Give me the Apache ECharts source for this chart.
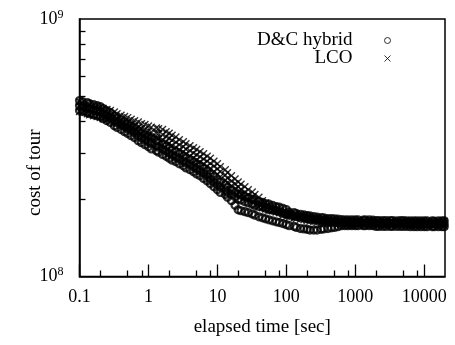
<!DOCTYPE html>
<html><head><meta charset="utf-8">
<script src="https://cdn.jsdelivr.net/npm/echarts@6/dist/echarts.min.js"></script>
<style>html,body{margin:0;padding:0;background:#fff}#c{width:455px;height:345px}</style>
</head><body><div id="c"></div>
<script>
// elapsed time [sec] sample points
const timeSec = [
  0.1, 0.11, 0.13, 0.14, 0.16, 0.18, 0.2, 0.22, 0.25, 0.28,
  0.32, 0.35, 0.4, 0.45, 0.5, 0.56, 0.63, 0.71, 0.79, 0.89,
  1, 1.1, 1.3, 1.4, 1.6, 1.8, 2, 2.2, 2.5, 2.8,
  3.2, 3.5, 4, 4.5, 5, 5.6, 6.3, 7.1, 7.9, 8.9,
  10, 11, 13, 14, 16, 18, 20, 22, 25, 28,
  32, 35, 40, 45, 50, 56, 63, 71, 79, 89,
  100, 110, 130, 140, 160, 180, 200, 220, 250, 280,
  320, 350, 400, 450, 500, 560, 630, 710, 790, 890,
  1000, 1100, 1300, 1400, 1600, 1800, 2000, 2200, 2500, 2800,
  3200, 3500, 4000, 4500, 5000, 5600, 6300, 7100, 7900, 8900,
  10000, 11000, 13000, 14000, 16000, 18000, 19500
];
// cost of tour, in millions (x 1e6)
const dcRun1 = [
  482, 478, 473, 469, 465, 461, 457, 449, 441, 433,
  421, 414, 406, 399, 392, 385, 379, 369, 362, 355,
  349, 343, 337, 332, 326, 321, 315, 309, 305, 300,
  294, 289, 284, 279, 274, 269, 263, 257, 250, 244,
  237, 232, 227, 222, 217, 213, 209, 207, 204, 202,
  200, 198, 196, 194, 192, 191, 189, 187, 186, 184,
  182, 178, 177, 175.5, 174.5, 173.5, 172.5, 172, 171, 170,
  169.5, 169, 168, 168, 167.5, 167, 166.5, 166, 166, 166,
  166, 166, 165.5, 166, 166, 165.5, 165, 165, 165, 165,
  165, 165, 164.5, 165, 165, 164.5, 164.5, 164.5, 164.5, 164.5,
  164.5, 164.5, 164.5, 164, 164.5, 164.5, 164.5
];
const dcRun2 = [
  461, 457, 453, 449, 445, 441, 437, 429, 421, 414,
  403, 396, 389, 382, 375, 369, 362, 352, 346, 340,
  334, 328, 322, 318, 312, 307, 301, 296, 292, 286,
  281, 276, 272, 267, 262, 257, 252, 246, 239, 233,
  227, 222, 217, 212, 208, 204, 200, 198, 195, 193,
  191, 189, 187, 186, 184, 182, 181, 180, 178, 176,
  175, 174, 172, 171, 170, 169, 168, 167, 166.5, 165.5,
  165, 164.5, 164, 163.5, 163, 162.5, 162, 162, 161.5, 161.5,
  161.5, 162, 161.5, 161, 161.5, 162, 161, 161.5, 161, 161,
  161, 161, 161, 161, 161, 161, 160, 160, 160, 160,
  160, 160, 160, 160, 160, 160, 160
];
const dcRun3 = [
  441, 437, 433, 429, 425, 421, 418, 410, 403, 396,
  385, 379, 372, 365, 359, 352, 346, 337, 331, 325,
  319, 313, 308, 304, 298, 293, 288, 283, 279, 274,
  269, 264, 260, 255, 250, 246, 240, 235, 229, 223,
  217, 212, 208, 203, 197, 189, 181.5, 180, 178.5, 177,
  175, 173, 170.5, 169, 167.5, 166, 164.5, 163, 162, 160.5,
  159, 157.5, 156.5, 155, 153.5, 153, 152.5, 151.5, 151.5, 151.5,
  152.5, 153, 153.5, 154.5, 155, 156, 157.5, 157.5, 157.5, 157.5,
  157.5, 157.5, 157.5, 157.5, 157.5, 157.5, 156.5, 156.5, 156.5, 156.5,
  156.5, 156.5, 156.5, 156.5, 156.5, 156.5, 156, 156, 156, 156,
  156, 156, 156, 156, 156, 156, 156
];
const lcoRun1 = [
  477, 473, 469, 465, 461, 457, 453, 449, 445, 441,
  435, 429, 423, 418, 414, 408, 403, 398, 392, 389,
  384, 380, 377, 375, 372, 365, 360, 354, 348, 340,
  334, 328, 322, 316, 311, 305, 300, 293, 288, 280,
  274, 267, 260, 253, 246, 239, 233, 228, 223, 217,
  213, 208, 203, 197, 193, 189, 186, 184, 181, 179,
  178, 176, 175, 174, 173, 172, 171, 170, 169.5, 168.5,
  168, 167.5, 167, 166.5, 166, 165.5, 165, 165, 164.5, 164.5,
  164.5, 164.5, 164.5, 164.5, 164.5, 164.5, 164, 164, 164, 164,
  164, 164, 164, 164, 164, 164, 163.5, 163.5, 163.5, 163.5,
  163.5, 163.5, 163.5, 163.5, 163.5, 163.5, 163.5
];
const lcoRun2 = [
  457, 453, 449, 445, 441, 437, 433, 429, 425, 421,
  416, 410, 405, 399, 396, 391, 385, 380, 375, 372,
  367, 364, 360, 359, 355, 349, 344, 338, 332, 325,
  319, 313, 308, 302, 297, 292, 286, 280, 275, 268,
  262, 255, 248, 241, 235, 229, 223, 218, 213, 208,
  204, 198, 194, 191, 188, 186, 183, 181, 179, 176,
  175, 173, 172, 171, 170, 169, 168, 167, 166.5, 165.5,
  165, 164.5, 164, 163.5, 163, 162.5, 162, 162, 161.5, 161.5,
  161.5, 161.5, 161.5, 161.5, 161.5, 161.5, 161, 161, 161, 161,
  161, 161, 161, 161, 161, 161, 160.5, 160.5, 160.5, 160.5,
  160.5, 160.5, 160.5, 160.5, 160.5, 160.5, 160.5
];
const lcoRun3 = [
  437, 433, 429, 425, 421, 418, 414, 410, 406, 403,
  398, 392, 387, 382, 379, 374, 369, 364, 359, 355,
  351, 348, 344, 343, 340, 334, 329, 323, 318, 311,
  305, 300, 294, 289, 284, 279, 274, 268, 263, 256,
  250, 244, 237, 231, 225, 219, 213, 209, 204, 198,
  195, 190, 186, 185, 183, 181, 180, 178, 177, 173,
  171, 170, 169, 168, 167, 166, 165, 164, 163.5, 162.5,
  162, 161.5, 161, 160.5, 160, 159.5, 159, 159, 158.5, 158.5,
  158.5, 158.5, 158.5, 158.5, 158.5, 158.5, 158, 158, 158, 158,
  158, 158, 158, 158, 158, 158, 157.5, 157.5, 157.5, 157.5,
  157.5, 157.5, 157.5, 157.5, 157.5, 157.5, 157.5
];
const seriesNames = ['D&C hybrid', 'LCO'];
const xMajorTicks = [0.1, 1, 10, 100, 1000, 10000];
const xTickLabels = ['0.1', '1', '10', '100', '1000', '10000'];
const xMinorTicks = [0.2, 0.5, 0.8, 2, 5, 8, 20, 50, 80, 200, 500, 800, 2000, 5000, 8000];
const yMinorTicks = [2e8, 3e8, 4e8, 5e8, 6e8, 7e8, 8e8, 9e8];

[dcRun1, dcRun2, dcRun3, lcoRun1, lcoRun2, lcoRun3].forEach((r, i) => {
  if (r.length !== timeSec.length) console.error('length mismatch run ' + i + ': ' + r.length + ' vs ' + timeSec.length);
});

function pts(run) { return timeSec.map((t, i) => [t, run[i] * 1e6]); }

const FONT = 'Liberation Serif';
const chart = echarts.init(document.getElementById('c'), null, {renderer: 'canvas'});
const crossPath = 'path://M0,0L10,10M10,0L0,10';
const legendText = {fontFamily: FONT, fontSize: 19, color: '#000', lineHeight: 18};

chart.setOption({
  animation: false,
  backgroundColor: '#fff',
  textStyle: {fontFamily: FONT, color: '#000'},
  grid: {left: 79.5, right: 10, top: 19, bottom: 68.5, show: true, borderColor: '#000', borderWidth: 1.5,
         containLabel: false, outerBoundsMode: 'none'},
  legend: [
    {data: [{name: seriesNames[0], itemStyle: {borderWidth: 1}}], right: 59, top: 26, align: 'right', orient: 'vertical',
     itemWidth: 60, itemHeight: 6, selectedMode: false, textStyle: legendText},
    {data: [{name: seriesNames[1], itemStyle: {borderWidth: 1}}], right: 59, top: 44, align: 'right', orient: 'vertical',
     itemWidth: 60, itemHeight: 6, selectedMode: false, textStyle: legendText}
  ],
  xAxis: [
    {type: 'log', logBase: 10, min: 0.1, max: 20000, position: 'bottom', gridIndex: 0,
     name: 'elapsed time [sec]', nameLocation: 'middle', nameGap: 41, nameMoveOverlap: false,
     nameTextStyle: {fontFamily: FONT, fontSize: 19, color: '#000'},
     axisLine: {show: true, lineStyle: {color: '#000', width: 1.5}},
     axisTick: {show: true, inside: true, length: 12, customValues: xMajorTicks, lineStyle: {color: '#000', width: 1.3}},
     axisLabel: {show: true, customValues: xMajorTicks, margin: 12, fontFamily: FONT, fontSize: 18, color: '#000',
       formatter: v => xTickLabels[Math.round(Math.log10(v)) + 1]},
     splitLine: {show: false}, minorTick: {show: false}},
    {type: 'log', logBase: 10, min: 0.1, max: 20000, position: 'bottom', gridIndex: 0, offset: 0,
     axisLine: {show: false},
     axisTick: {show: true, inside: true, length: 6, customValues: xMinorTicks, lineStyle: {color: '#000', width: 1.3}},
     axisLabel: {show: false}, splitLine: {show: false}}
  ],
  yAxis: [
    {type: 'log', logBase: 10, min: 1e8, max: 1e9, position: 'left',
     name: 'cost of tour', nameLocation: 'middle', nameGap: 35, nameRotate: 90, nameMoveOverlap: false,
     nameTextStyle: {fontFamily: FONT, fontSize: 19, color: '#000', padding: [0, 50, 0, 0]},
     axisLine: {show: true, lineStyle: {color: '#000', width: 1.5}},
     axisTick: {show: true, inside: true, length: 6, customValues: yMinorTicks, lineStyle: {color: '#000', width: 1.3}},
     axisLabel: {show: true, customValues: [1e8, 1e9], margin: 16,
       formatter: v => '{b|10}{s|' + Math.round(Math.log10(v)) + '}',
       rich: {b: {fontFamily: FONT, fontSize: 18, color: '#000'},
              s: {fontFamily: FONT, fontSize: 12, color: '#000', padding: [0, 0, 9, 0]}}},
     splitLine: {show: false}}
  ],
  series: [
    {name: seriesNames[0], type: 'scatter', xAxisIndex: 0, yAxisIndex: 0, symbol: 'circle', symbolSize: 7,
     itemStyle: {color: 'rgba(0,0,0,0)', borderColor: '#000', borderWidth: 2.2},
     data: [].concat(pts(dcRun1), pts(dcRun2), pts(dcRun3))},
    {name: seriesNames[1], type: 'scatter', xAxisIndex: 0, yAxisIndex: 0, symbol: crossPath, symbolSize: 7,
     itemStyle: {color: 'rgba(0,0,0,0)', borderColor: '#000', borderWidth: 1.4},
     data: [].concat(pts(lcoRun1), pts(lcoRun2), pts(lcoRun3))}
  ]
});
</script></body></html>
